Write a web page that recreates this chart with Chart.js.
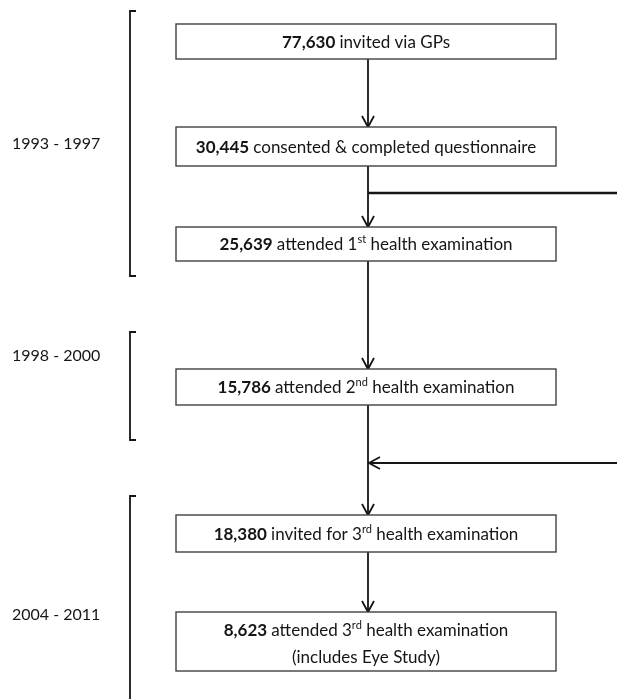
<!DOCTYPE html>
<html>
<head>
<meta charset="utf-8">
<script src="https://cdn.jsdelivr.net/npm/chart.js@4/dist/chart.umd.min.js"></script>
<style>
  html, body { margin: 0; padding: 0; background: #fff; }
  canvas { display: block; }
</style>
</head>
<body>
<canvas id="chart" width="617" height="699"></canvas>
<script>
// data
const counts = [77630, 30445, 25639, 15786, 18380, 8623];
const stepLabels = [
  'invited via GPs',
  'consented & completed questionnaire',
  'attended 1^st^ health examination',
  'attended 2^nd^ health examination',
  'invited for 3^rd^ health examination',
  'attended 3^rd^ health examination'
];
const stepNotes = ['', '', '', '', '', '(includes Eye Study)'];
const periods = ['1993 - 1997', '1998 - 2000', '2004 - 2011'];

// layout, in plot units (x 0-617, y 0-699 from the top)
const boxLeft = 176, boxRight = 556, flowX = 368;
const boxTops = [24, 127, 227, 369, 515, 612];
const boxBottoms = [59, 166, 261, 405, 552, 671];
const bracketTops = [11, 332, 496];
const bracketBottoms = [276, 440, 702];
const periodY = [144, 356, 615];
const branchOutY = 193, branchInY = 463;

const FONT = 'Lato, "Open Sans", sans-serif';
const INK = '#151515';

function splitLabel(str) {
  // ^xx^ marks a superscript
  return str.split('^').map((t, i) => ({ t: t, sup: i % 2 === 1 }));
}

function drawRich(ctx, segs, cx, cy) {
  let w = 0;
  segs.forEach(s => {
    ctx.font = s.font;
    s.w = ctx.measureText(s.t).width;
    w += s.w;
  });
  let x = cx - w / 2;
  ctx.textAlign = 'left';
  ctx.textBaseline = 'alphabetic';
  segs.forEach(s => {
    ctx.font = s.font;
    ctx.fillText(s.t, x, cy + 6 - (s.dy || 0));
    x += s.w;
  });
}

function arrowHead(ctx, x, y, dir) {
  ctx.beginPath();
  if (dir === 'down') {
    ctx.moveTo(x - 6, y - 11); ctx.lineTo(x, y); ctx.lineTo(x + 6, y - 11);
  } else {
    ctx.moveTo(x + 11, y - 6); ctx.lineTo(x, y); ctx.lineTo(x + 11, y + 6);
  }
  ctx.stroke();
}

const flowPlugin = {
  id: 'flow',
  afterDraw(chart) {
    const ctx = chart.ctx;
    const X = v => chart.scales.x.getPixelForValue(v);
    const Y = v => chart.scales.y.getPixelForValue(v);
    ctx.save();
    ctx.strokeStyle = INK;
    ctx.fillStyle = INK;
    ctx.lineCap = 'butt';

    // brackets + period labels
    ctx.lineWidth = 1.8;
    periods.forEach((p, i) => {
      ctx.beginPath();
      ctx.moveTo(X(136), Y(bracketTops[i]));
      ctx.lineTo(X(130), Y(bracketTops[i]));
      ctx.lineTo(X(130), Y(bracketBottoms[i]));
      ctx.lineTo(X(136), Y(bracketBottoms[i]));
      ctx.stroke();
      ctx.font = '16px ' + FONT;
      ctx.textAlign = 'left';
      ctx.textBaseline = 'middle';
      ctx.fillText(p, X(12), Y(periodY[i]));
    });

    // vertical connectors
    ctx.lineWidth = 1.8;
    ctx.lineJoin = 'miter';
    for (let i = 0; i < counts.length - 1; i++) {
      ctx.beginPath();
      ctx.moveTo(X(flowX), Y(boxBottoms[i]));
      ctx.lineTo(X(flowX), Y(boxTops[i + 1]));
      ctx.stroke();
      arrowHead(ctx, X(flowX), Y(boxTops[i + 1]), 'down');
    }

    // branch out (drop-outs) and branch in (re-invited)
    ctx.lineWidth = 2.4;
    ctx.beginPath();
    ctx.moveTo(X(flowX), Y(branchOutY));
    ctx.lineTo(X(617), Y(branchOutY));
    ctx.stroke();
    ctx.lineWidth = 1.8;
    ctx.beginPath();
    ctx.moveTo(X(617), Y(branchInY));
    ctx.lineTo(X(flowX + 1), Y(branchInY));
    ctx.stroke();
    arrowHead(ctx, X(flowX + 1), Y(branchInY), 'left');

    // boxes
    counts.forEach((n, i) => {
      const x0 = X(boxLeft), x1 = X(boxRight);
      const y0 = Y(boxTops[i]), y1 = Y(boxBottoms[i]);
      ctx.fillStyle = '#fff';
      ctx.fillRect(x0, y0, x1 - x0, y1 - y0);
      ctx.strokeStyle = '#404040';
      ctx.lineWidth = 1.4;
      ctx.strokeRect(x0, y0, x1 - x0, y1 - y0);

      const segs = [{ t: n.toLocaleString('en-US') + ' ', font: 'bold 17px ' + FONT }];
      splitLabel(stepLabels[i]).forEach(s => {
        if (!s.t) return;
        segs.push(s.sup
          ? { t: s.t, font: '11px ' + FONT, dy: 7 }
          : { t: s.t, font: '17px ' + FONT });
      });
      ctx.fillStyle = INK;
      const cx = (x0 + x1) / 2;
      if (stepNotes[i]) {
        drawRich(ctx, segs, cx, Y(boxTops[i] + 18));
        drawRich(ctx, [{ t: stepNotes[i], font: '17px ' + FONT }], cx, Y(boxTops[i] + 45));
      } else {
        drawRich(ctx, segs, cx, (y0 + y1) / 2);
      }
    });
    ctx.restore();
  }
};

new Chart('chart', {
  type: 'scatter',
  data: { datasets: [{ data: [], pointRadius: 0 }] },
  options: {
    responsive: false,
    animation: false,
    events: [],
    layout: { padding: 0 },
    plugins: { legend: { display: false }, tooltip: { enabled: false } },
    scales: {
      x: { type: 'linear', min: 0, max: 617, display: false },
      y: { type: 'linear', min: 0, max: 699, reverse: true, display: false }
    }
  },
  plugins: [flowPlugin]
});
</script>
</body>
</html>
